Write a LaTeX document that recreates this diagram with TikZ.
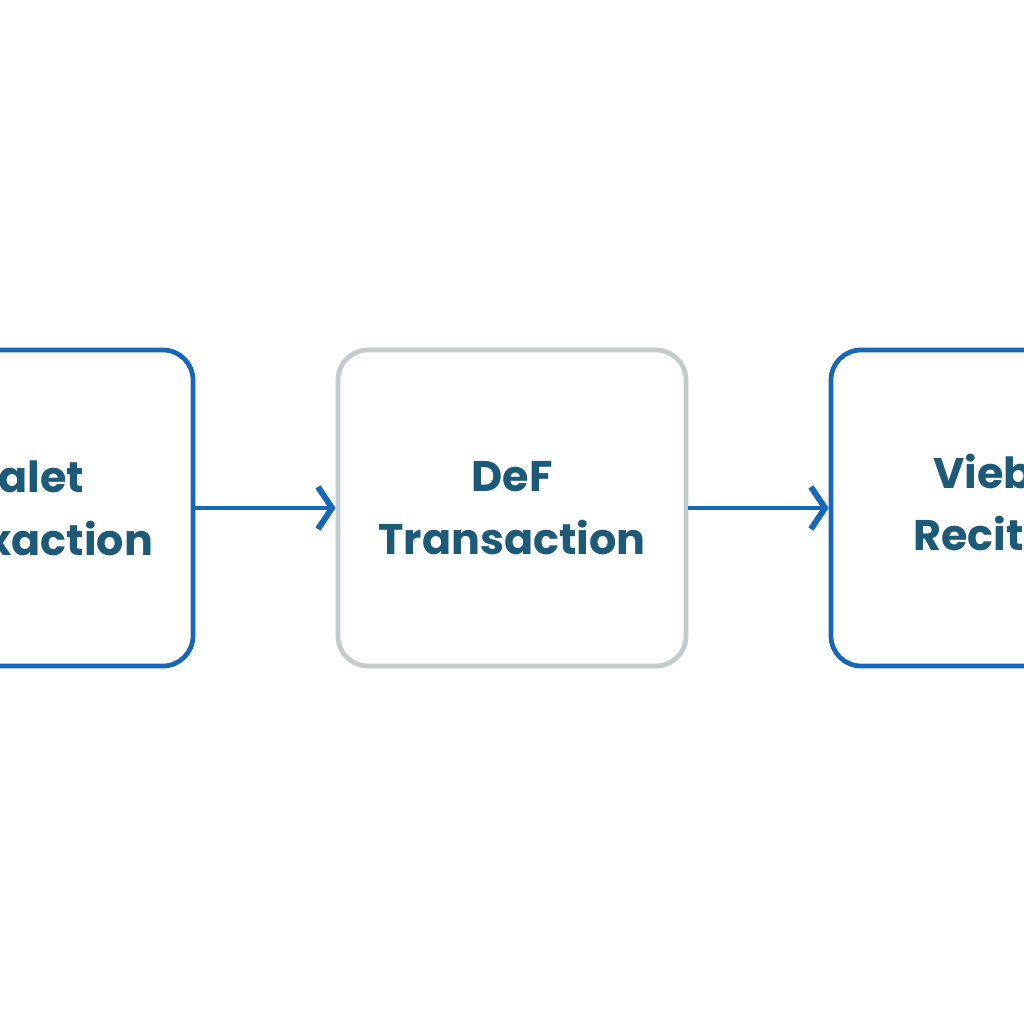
\documentclass[tikz,border=0pt]{standalone}
\usepackage{fontspec}
\setmainfont{Poppins}[BoldFont={* Bold}]
\usetikzlibrary{arrows.meta}
\definecolor{boxblue}{HTML}{1767B9}
\definecolor{boxgray}{HTML}{C3CBCC}
\definecolor{labelteal}{HTML}{1D5A78}
\tikzset{
  stage/.style={draw=boxblue,line width=1.35pt,rounded corners=0.3cm,inner sep=0pt,
    minimum width=3.48cm,minimum height=3.16cm,align=center,text=labelteal,
    font=\fontsize{12.2}{17.9}\selectfont\bfseries},
  flow/.style={draw=boxblue,line width=1.35pt,-{Straight Barb[length=4pt,width=12pt,line width=1.7pt]}}
}
\begin{document}
\begin{tikzpicture}
\useasboundingbox (0,0) rectangle (10.24,10.24);
\fill[white] (0,0) rectangle (10.24,10.24);
\clip (0,0) rectangle (10.24,10.24);
\node[stage] (wallet) at (0.19,5.16) {Walet\\Tranxaction};
\node[stage,draw=boxgray] (defi) at (5.12,5.16) {DeF\\Transaction};
\node[stage] (receipt) at (10.05,5.16) {Viebte\\Recitept};
\draw[flow] (wallet) -- (defi.west);
\draw[flow] (defi) -- (receipt.west);
\end{tikzpicture}
\end{document}
